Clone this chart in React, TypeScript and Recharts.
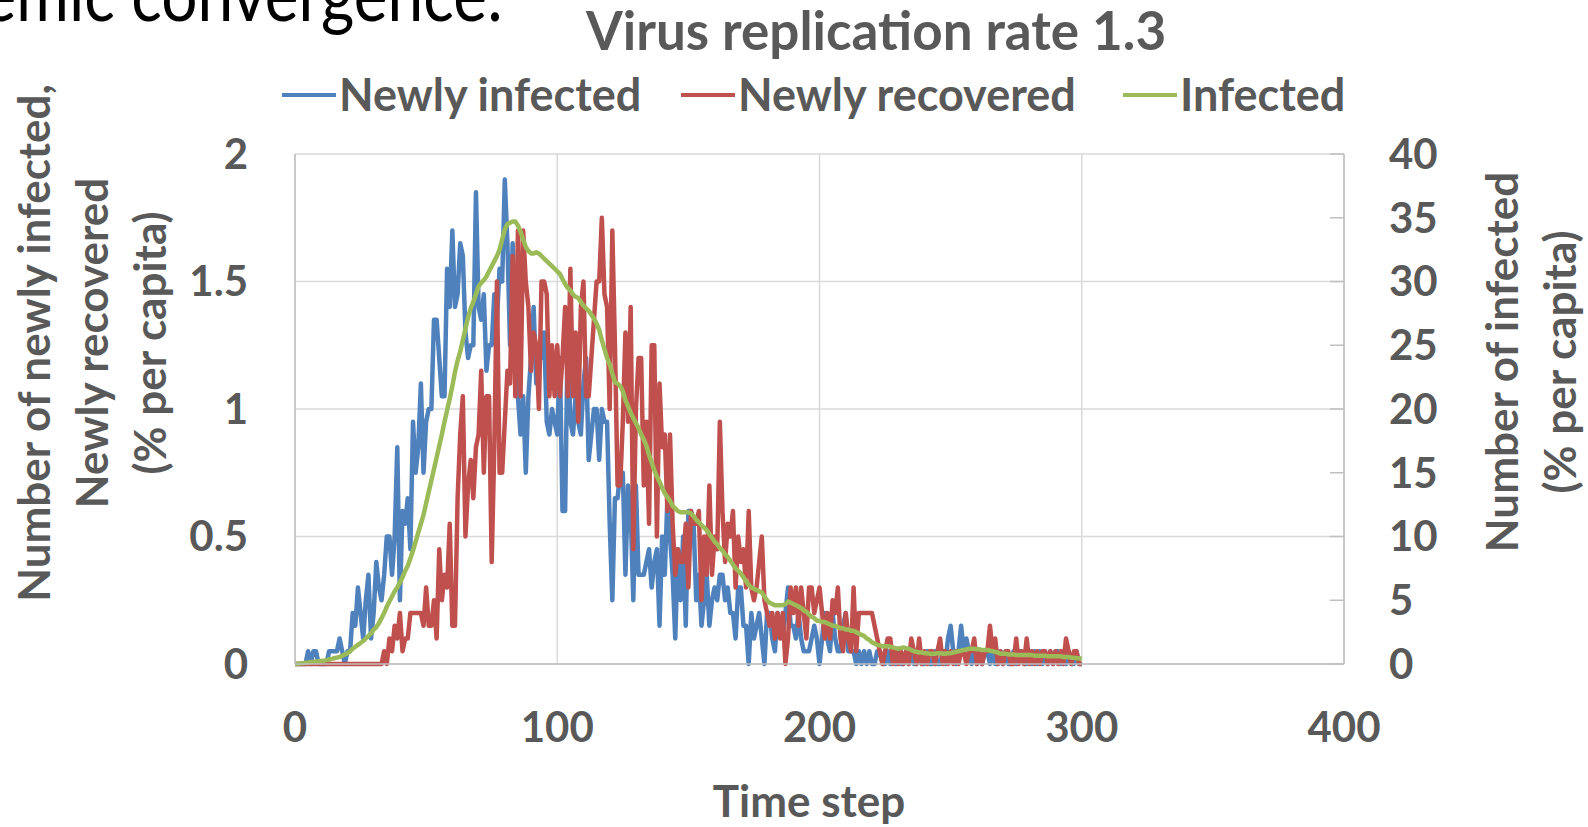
import { LineChart, Line, XAxis, YAxis, CartesianGrid } from 'recharts';

// time steps 0..300, one value per step
const newlyInfected = [
  0, 0, 0, 0, 0, 0.05, 0, 0.05, 0.05, 0,
  0, 0, 0, 0.05, 0.05, 0.05, 0.05, 0.1, 0.05, 0,
  0.05, 0.05, 0.2, 0.15, 0.3, 0.2, 0.1, 0.25, 0.35, 0.1,
  0.2, 0.4, 0.3, 0.25, 0.35, 0.5, 0.5, 0.35, 0.5, 0.85,
  0.25, 0.6, 0.55, 0.65, 0.45, 0.95, 0.75, 0.85, 1.1, 0.75,
  0.95, 1.0, 1.0, 1.35, 1.35, 1.2, 1.05, 1.05, 1.55, 1.4,
  1.7, 1.4, 1.45, 1.65, 1.6, 1.3, 1.2, 1.25, 1.25, 1.85,
  1.4, 1.35, 1.45, 1.15, 1.25, 1.25, 1.45, 1.35, 1.55, 1.5,
  1.9, 1.65, 1.25, 1.65, 1.2, 1.05, 0.9, 1.05, 0.75, 1.05,
  1.2, 1.4, 1.1, 1.2, 1.2, 1.3, 0.95, 0.9, 1.0, 0.95,
  0.9, 1.2, 0.6, 0.6, 1.3, 0.95, 0.9, 1.05, 0.95, 0.9,
  1.1, 1.2, 0.8, 0.9, 1.0, 1.0, 0.8, 1.0, 0.95, 0.95,
  0.55, 0.25, 0.65, 0.65, 0.75, 0.75, 0.35, 0.7, 0.6, 0.25,
  0.7, 0.35, 0.35, 0.35, 0.4, 0.45, 0.3, 0.4, 0.45, 0.15,
  0.5, 0.35, 0.65, 0.5, 0.35, 0.1, 0.45, 0.25, 0.5, 0.15,
  0.6, 0.6, 0.55, 0.25, 0.35, 0.15, 0.25, 0.35, 0.15, 0.25,
  0.3, 0.25, 0.35, 0.35, 0.25, 0.3, 0.2, 0.2, 0.1, 0.3,
  0.3, 0.15, 0.15, 0, 0.2, 0.1, 0.15, 0.2, 0.1, 0,
  0.2, 0.2, 0.1, 0.05, 0.2, 0.15, 0.1, 0.2, 0.3, 0.15,
  0.15, 0.1, 0.2, 0.1, 0.05, 0.05, 0.05, 0.1, 0.15, 0.1,
  0, 0.1, 0.2, 0.1, 0.05, 0.2, 0.1, 0.05, 0.05, 0.15,
  0.2, 0.05, 0.05, 0.05, 0, 0.05, 0, 0.05, 0, 0.05,
  0, 0, 0.05, 0.05, 0, 0, 0.05, 0, 0.05, 0,
  0.05, 0, 0, 0.05, 0, 0.05, 0, 0, 0.05, 0,
  0, 0.05, 0, 0, 0.05, 0, 0, 0.05, 0, 0.1,
  0.15, 0.05, 0, 0.05, 0.15, 0.05, 0.1, 0.05, 0, 0.05,
  0, 0.05, 0, 0.05, 0.05, 0, 0.05, 0, 0, 0.05,
  0, 0.05, 0, 0, 0.05, 0, 0.05, 0.05, 0, 0,
  0.05, 0, 0.05, 0, 0.05, 0, 0.05, 0, 0.05, 0,
  0.05, 0.05, 0, 0.05, 0, 0.05, 0, 0, 0.05, 0,
  0,
];

const newlyRecovered = [
  0, 0, 0, 0, 0, 0, 0, 0, 0, 0,
  0, 0, 0, 0, 0, 0, 0, 0, 0, 0,
  0, 0, 0, 0, 0, 0, 0, 0, 0, 0,
  0, 0, 0, 0, 0.05, 0, 0.1, 0.05, 0.15, 0.1,
  0.2, 0.05, 0.1, 0.1, 0.2, 0.2, 0.2, 0.2, 0.2, 0.15,
  0.3, 0.15, 0.15, 0.25, 0.1, 0.45, 0.25, 0.35, 0.3, 0.55,
  0.15, 0.15, 0.65, 0.9, 1.05, 0.5, 0.7, 0.8, 0.65, 0.85,
  0.9, 1.15, 0.75, 1.05, 1.05, 0.4, 0.85, 1.5, 0.75, 0.75,
  0.95, 1.15, 1.1, 1.6, 1.05, 1.7, 1.05, 1.7, 1.5, 1.4,
  1.15, 1.3, 1.25, 1.0, 1.5, 1.5, 1.45, 1.05, 1.25, 1.05,
  1.25, 1.05, 1.2, 1.4, 1.05, 1.55, 1.05, 1.3, 0.95, 1.4,
  1.5, 1.05, 1.05, 1.2, 1.35, 1.5, 1.5, 1.75, 1.45, 1.4,
  1.0, 1.7, 1.25, 0.7, 0.7, 0.95, 1.3, 0.95, 1.4, 0.45,
  1.0, 1.2, 1.2, 0.7, 0.95, 0.55, 1.25, 1.25, 0.5, 1.1,
  0.85, 0.9, 0.6, 0.9, 0.55, 0.35, 0.45, 0.4, 0.4, 0.55,
  0.3, 0.6, 0.55, 0.55, 0.6, 0.25, 0.5, 0.35, 0.7, 0.35,
  0.5, 0.45, 0.95, 0.6, 0.4, 0.55, 0.5, 0.6, 0.3, 0.5,
  0.4, 0.45, 0.3, 0.6, 0.3, 0.25, 0.3, 0.4, 0.5, 0.25,
  0.2, 0.15, 0.2, 0.1, 0.2, 0.1, 0.2, 0, 0.1, 0.3,
  0.2, 0.3, 0.15, 0.3, 0.2, 0.1, 0.3, 0.3, 0.2, 0.25,
  0.3, 0.2, 0.1, 0.2, 0.1, 0.25, 0.2, 0.3, 0.1, 0.05,
  0.2, 0.1, 0.05, 0.3, 0.05, 0.2, 0.2, 0.2, 0.2, 0.2,
  0.2, 0.15, 0.1, 0.05, 0, 0.05, 0.1, 0.1, 0, 0.05,
  0, 0.05, 0, 0.05, 0, 0.1, 0.05, 0, 0.1, 0,
  0.05, 0, 0.05, 0.05, 0, 0.05, 0.1, 0, 0.05, 0,
  0.05, 0, 0.05, 0, 0.05, 0.05, 0, 0.05, 0.05, 0.1,
  0, 0.05, 0, 0.05, 0.05, 0.15, 0.05, 0.1, 0, 0.05,
  0, 0.05, 0.05, 0, 0, 0.1, 0, 0.05, 0, 0.1,
  0, 0.05, 0, 0.05, 0, 0.05, 0.05, 0, 0.05, 0,
  0.05, 0, 0.05, 0, 0.1, 0.05, 0, 0.05, 0.05, 0,
  0,
];

// right axis (% per capita)
const infected = [
  0, 0, 0.05, 0.05, 0.1, 0.1, 0.15, 0.15, 0.2, 0.2,
  0.25, 0.25, 0.3, 0.35, 0.4, 0.45, 0.5, 0.55, 0.65, 0.75,
  0.85, 1.0, 1.2, 1.35, 1.5, 1.65, 1.8, 2.0, 2.2, 2.4,
  2.7, 2.9, 3.2, 3.6, 4.0, 4.5, 4.9, 5.3, 5.7, 6.0,
  6.4, 6.8, 7.3, 7.7, 8.3, 8.9, 9.6, 10.3, 11.0, 11.7,
  12.6, 13.5, 14.4, 15.3, 16.2, 17.1, 18.0, 19.0, 19.9, 20.8,
  21.8, 22.9, 23.8, 24.5, 25.4, 26.3, 27.2, 27.9, 28.4, 29.0,
  29.6, 29.9, 30.1, 30.4, 30.8, 31.2, 31.6, 32.0, 32.5, 33.3,
  34.1, 34.5, 34.6, 34.7, 34.7, 34.4, 33.9, 33.3, 32.7, 32.4,
  32.2, 32.2, 32.3, 32.2, 32.0, 31.8, 31.6, 31.4, 31.2, 31.0,
  30.8, 30.6, 30.2, 29.8, 29.5, 29.3, 29.0, 28.8, 28.7, 28.4,
  28.1, 27.9, 27.7, 27.4, 27.1, 26.7, 26.2, 25.4, 24.7, 24.0,
  23.5, 22.8, 22.1, 22.0, 21.8, 21.4, 20.7, 20.2, 19.7, 19.3,
  18.9, 18.5, 18.0, 17.6, 17.1, 16.4, 15.8, 15.2, 14.7, 14.3,
  13.8, 13.4, 13.1, 12.8, 12.4, 12.2, 12.0, 11.9, 11.9, 11.9,
  11.9, 11.8, 11.6, 11.3, 11.1, 10.9, 10.7, 10.5, 10.2, 9.9,
  9.6, 9.4, 9.1, 8.9, 8.6, 8.4, 8.1, 7.8, 7.5, 7.3,
  7.1, 6.8, 6.5, 6.2, 6.0, 5.9, 5.8, 5.7, 5.6, 5.3,
  5.0, 4.8, 4.7, 4.6, 4.6, 4.6, 4.6, 4.7, 4.9, 4.8,
  4.7, 4.6, 4.5, 4.4, 4.2, 4.1, 3.9, 3.7, 3.6, 3.4,
  3.4, 3.3, 3.3, 3.2, 3.1, 3.0, 3.0, 2.9, 2.8, 2.8,
  2.7, 2.7, 2.6, 2.6, 2.5, 2.4, 2.3, 2.2, 2.0, 1.9,
  1.7, 1.6, 1.5, 1.45, 1.4, 1.4, 1.4, 1.35, 1.3, 1.25,
  1.2, 1.25, 1.3, 1.25, 1.2, 1.1, 1.0, 0.95, 0.9, 0.9,
  0.85, 0.85, 0.8, 0.8, 0.8, 0.85, 0.85, 0.8, 0.8, 0.85,
  0.85, 0.9, 0.95, 1.0, 1.05, 1.1, 1.15, 1.2, 1.2, 1.2,
  1.15, 1.15, 1.1, 1.1, 1.1, 1.05, 1.0, 0.95, 0.9, 0.8,
  0.8, 0.8, 0.75, 0.75, 0.75, 0.7, 0.7, 0.7, 0.7, 0.7,
  0.7, 0.7, 0.65, 0.65, 0.65, 0.65, 0.65, 0.6, 0.6, 0.6,
  0.6, 0.6, 0.6, 0.55, 0.55, 0.55, 0.5, 0.5, 0.45, 0.45,
  0.4,
];

const xTicks = [0, 100, 200, 300, 400];
const leftTicks = [0, 0.5, 1, 1.5, 2];
const rightTicks = [0, 5, 10, 15, 20, 25, 30, 35, 40];

const data = newlyInfected.map((v, i) => ({
  t: i,
  newlyInfected: v,
  newlyRecovered: newlyRecovered[i],
  infected: infected[i],
}));

const FONT = 'Lato, "Open Sans", sans-serif';
const GREY = '#595959';
const BLUE = '#4F81BD';
const RED = '#C0504D';
const GREEN = '#9BBB59';

const tickStyle = { fontSize: 42, fontWeight: 700, fill: GREY, fontFamily: FONT };

// right axis: short marks pointing into the plot, labels outside
const RightTick = (props: any) => {
  const { x, y, payload } = props;
  return (
    <g>
      <line x1={x - 14} x2={x} y1={y} y2={y} stroke="#BFBFBF" strokeWidth={1.5} />
      <text x={x + 45} y={y} dy="0.355em" textAnchor="start" {...tickStyle}>
        {payload.value}
      </text>
    </g>
  );
};

const legendItems = [
  { label: 'Newly infected', color: BLUE, x: 282 },
  { label: 'Newly recovered', color: RED, x: 681 },
  { label: 'Infected', color: GREEN, x: 1123 },
];

export default function App() {
  return (
    <div style={{ position: 'fixed', left: 0, top: 0, width: 1588, height: 827, background: '#fff' }}>
      <LineChart width={1588} height={827} data={data} margin={{ top: 154, right: 0, bottom: 0, left: 0 }}>
        <CartesianGrid yAxisId="left" stroke="#D9D9D9" strokeWidth={1.5} />
        <XAxis
          dataKey="t"
          type="number"
          domain={[0, 400]}
          ticks={xTicks}
          height={163}
          tickSize={0}
          tickMargin={48}
          tick={tickStyle}
          axisLine={{ stroke: '#BFBFBF', strokeWidth: 1.5 }}
          tickLine={false}
        />
        <YAxis
          yAxisId="left"
          domain={[0, 2]}
          ticks={leftTicks}
          width={295}
          tickSize={0}
          tickMargin={47}
          tick={tickStyle}
          axisLine={{ stroke: '#BFBFBF', strokeWidth: 1.5 }}
          tickLine={false}
        />
        <YAxis
          yAxisId="right"
          orientation="right"
          domain={[0, 40]}
          ticks={rightTicks}
          width={244}
          tickSize={0}
          tickMargin={0}
          tick={<RightTick />}
          axisLine={{ stroke: '#BFBFBF', strokeWidth: 1.5 }}
          tickLine={false}
        />
        <Line
          yAxisId="left"
          type="linear"
          dataKey="newlyInfected"
          stroke={BLUE}
          strokeWidth={4.5}
          strokeLinejoin="round"
          dot={false}
          isAnimationActive={false}
        />
        <Line
          yAxisId="left"
          type="linear"
          dataKey="newlyRecovered"
          stroke={RED}
          strokeWidth={4.5}
          strokeLinejoin="round"
          dot={false}
          isAnimationActive={false}
        />
        <Line
          yAxisId="right"
          type="linear"
          dataKey="infected"
          stroke={GREEN}
          strokeWidth={4.5}
          strokeLinejoin="round"
          dot={false}
          isAnimationActive={false}
        />
      </LineChart>

      <svg
        width={1588}
        height={827}
        style={{ position: 'absolute', left: 0, top: 0, pointerEvents: 'none' }}
        fontFamily={FONT}
      >
        {/* slide heading, cut off by the top edge */}
        <text transform="translate(503,21) scale(1,1.15)" textAnchor="end" fontSize={64} fill="#000">
          Epidemic convergence:
        </text>

        <text x={876} y={50} textAnchor="middle" fontSize={53} fontWeight={700} fill={GREY}>
          Virus replication rate 1.3
        </text>

        {legendItems.map((item) => (
          <g key={item.label}>
            <line x1={item.x} x2={item.x + 54} y1={95} y2={95} stroke={item.color} strokeWidth={4} />
            <text x={item.x + 57} y={111} fontSize={45} fontWeight={700} fill={GREY}>
              {item.label}
            </text>
          </g>
        ))}

        <g fontSize={44} fontWeight={700} fill={GREY} textAnchor="middle">
          <text transform="translate(50,343) rotate(-90)">Number of newly infected,</text>
          <text transform="translate(108,343) rotate(-90)">Newly recovered</text>
          <text transform="translate(166,343) rotate(-90)">(% per capita)</text>

          <text transform="translate(1518,362) rotate(-90)">Number of infected</text>
          <text transform="translate(1576,362) rotate(-90)">(% per capita)</text>

          <text x={809} y={817}>Time step</text>
        </g>
      </svg>
    </div>
  );
}
